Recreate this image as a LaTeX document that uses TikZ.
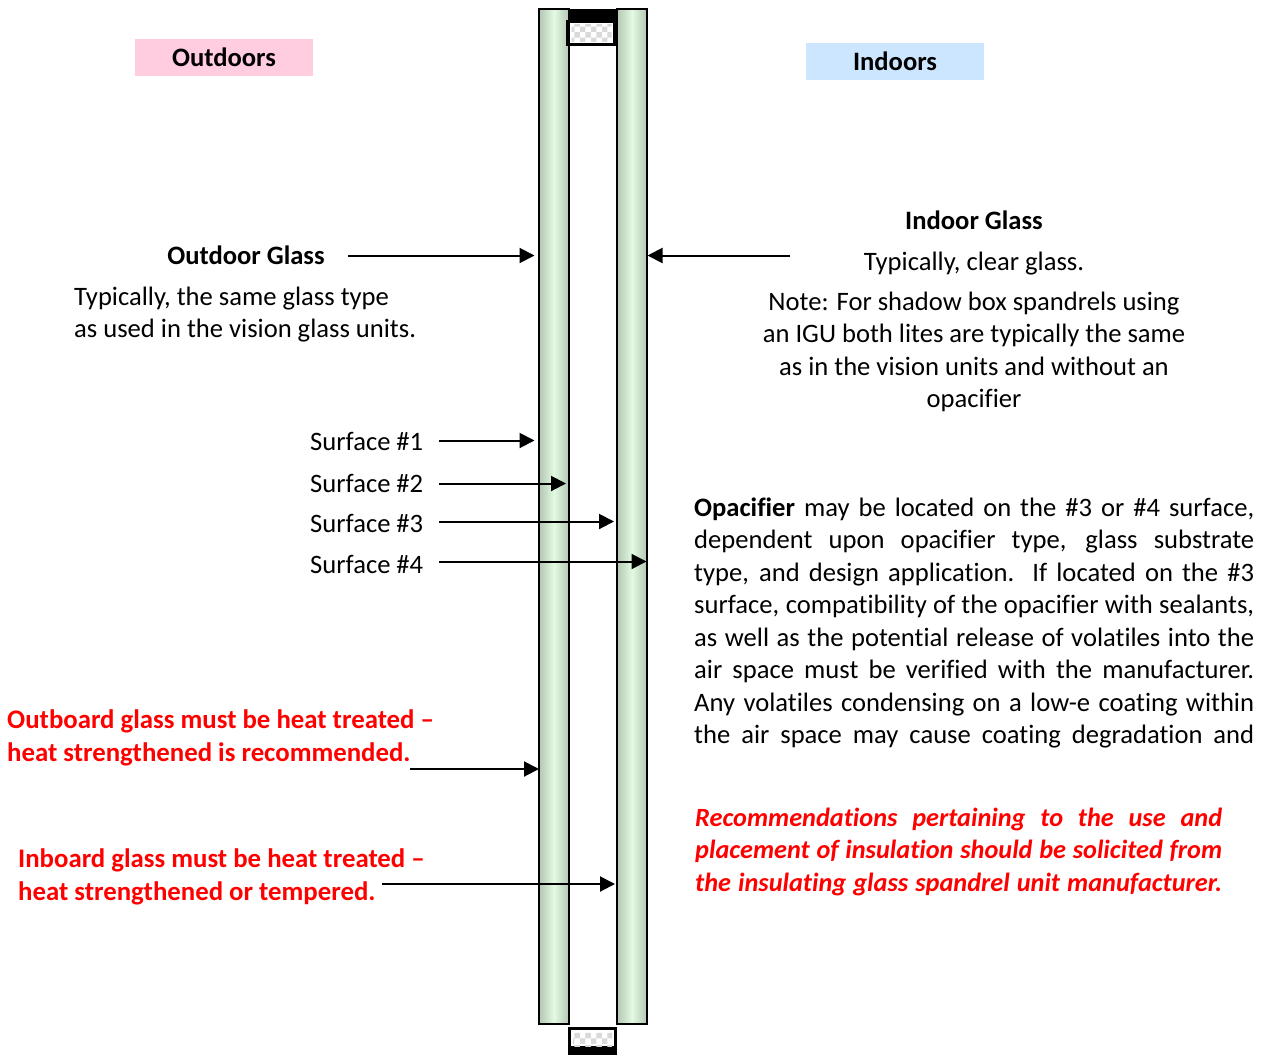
\documentclass[tikz,border=0pt]{standalone}
\usepackage{fontspec}
\setmainfont[Ligatures=NoCommon]{Carlito}
\usepackage{tikz}
\usetikzlibrary{arrows.meta,patterns}
\definecolor{glassedge}{HTML}{B4C6B4}
\definecolor{glassmid}{HTML}{E2FAE2}
\definecolor{outpink}{HTML}{FFCCE0}
\definecolor{inblue}{HTML}{CCE6FF}
\newcommand{\fullline}[2][560pt]{\hbox to #1{\spaceskip=.2em plus 3em\relax #2}}
\newcommand{\bodyfont}{\fontsize{26.6}{32.5}\selectfont}
\tikzset{
	bodytext/.style={inner sep=0pt,font=\bodyfont,align=left},
	boldtext/.style={bodytext,font=\bodyfont\bfseries},
	redtext/.style={boldtext,text=red,font=\fontsize{26.8}{32.5}\selectfont\bfseries},
	headbox/.style={boldtext,minimum width=178pt,minimum height=37pt},
	glasslite/.style={draw=black,line width=1.8pt,left color=glassedge,right color=glassedge,middle color=glassmid},
	callout/.style={-{Triangle[length=15pt,width=15pt]},line width=2pt}
}
\begin{document}
\begin{tikzpicture}[x=1pt,y=-1pt]
	\useasboundingbox (0,0) rectangle (1268,1055);
	% glass lites
	\draw[glasslite] (539,9) rectangle (569,1024);
	\draw[glasslite] (617,9) rectangle (647,1024);
	% top spacer
	\fill[black] (569,9) rectangle (617,22);
	\fill[black] (566,20) rectangle (616,46);
	\fill[white] (569.5,23) rectangle (613,43);
	\fill[pattern=checkerboard,pattern color=black!15] (571.5,24.5) rectangle (611.5,41);
	% bottom spacer
	\fill[black] (568,1027) rectangle (617,1055);
	\fill[white] (571,1030) rectangle (614,1046);
	\fill[pattern=checkerboard,pattern color=black!15] (573,1032) rectangle (612,1046);
	% headings
	\node[headbox,fill=outpink,align=center] (outdoors) at (224,57.5) {Outdoors};
	\node[headbox,fill=inblue,align=center] (indoors) at (895,61.5) {Indoors};
	\begin{scope}[every node/.append style={bodytext}]
		\node[boldtext] (outdoorglass) at (246,255.5) {Outdoor Glass};
		\node[anchor=west] (outdoortext) at (74,314.5) {Typically, the same glass type\\as used in the vision glass units.};
		\node[boldtext] (indoorglass) at (974,220.5) {Indoor Glass};
		\node (indoorclear) at (974,263.5) {Typically, clear glass.};
		\node[align=center] (indoornote) at (974,352) {Note: For shadow box spandrels using\\an IGU both lites are typically the same\\as in the vision units and without an\\opacifier};
		\node[anchor=west] (surface1) at (310,441) {Surface \#1};
		\node[anchor=west] (surface2) at (310,483) {Surface \#2};
		\node[anchor=west] (surface3) at (310,523) {Surface \#3};
		\node[anchor=west] (surface4) at (310,564) {Surface \#4};
		\node[anchor=north west,text width=560pt] (opacifier) at (694,497.5) {%
			\fullline{\textbf{Opacifier} may be located on the \#3 or \#4 surface,}
			\fullline{dependent upon opacifier type, glass substrate}
			\fullline{type, and design application.\ \ If located on the \#3}
			\fullline{surface, compatibility of the opacifier with sealants,}
			\fullline{as well as the potential release of volatiles into the}
			\fullline{air space must be verified with the manufacturer.}
			\fullline{Any volatiles condensing on a low-e coating within}
			\fullline{the air space may cause coating degradation and}};
		\node[anchor=north west,text width=527pt,redtext,font=\fontsize{26.3}{32.5}\selectfont\bfseries\itshape] (insulation) at (695,807.5) {%
			\fullline[527pt]{Recommendations pertaining to the use and}
			\fullline[527pt]{placement of insulation should be solicited from}
			\fullline[527pt]{the insulating glass spandrel unit manufacturer.}};
		\node[anchor=west,redtext] (outboard) at (7,738) {Outboard glass must be heat treated –\\heat strengthened is recommended.};
		\node[anchor=west,redtext] (inboard) at (18,877) {Inboard glass must be heat treated –\\heat strengthened or tempered.};
	\end{scope}
	% free ends of the arrows
	\coordinate (outstart) at (348,255.5);
	\coordinate (outend) at (534.5,255.5);
	\coordinate (instart) at (790,255.5);
	\coordinate (inend) at (647.5,255.5);
	\coordinate (end1) at (534.5,440.5);
	\coordinate (end2) at (566,483.5);
	\coordinate (end3) at (614,521.5);
	\coordinate (end4) at (646.5,561.5);
	\coordinate (start1) at (439,440.5);
	\coordinate (start2) at (439,483.5);
	\coordinate (start3) at (439,521.5);
	\coordinate (start4) at (439,561.5);
	\coordinate (obstart) at (410,769);
	\coordinate (obend) at (539,769);
	\coordinate (ibstart) at (382,884);
	\coordinate (ibend) at (615,884);
	\draw[callout] (outstart) -- (outend);
	\draw[callout] (instart) -- (inend);
	\foreach \n in {1,2,3,4}
		\draw[callout] (start\n) -- (end\n);
	\draw[callout] (obstart) -- (obend);
	\draw[callout] (ibstart) -- (ibend);
\end{tikzpicture}
\end{document}
